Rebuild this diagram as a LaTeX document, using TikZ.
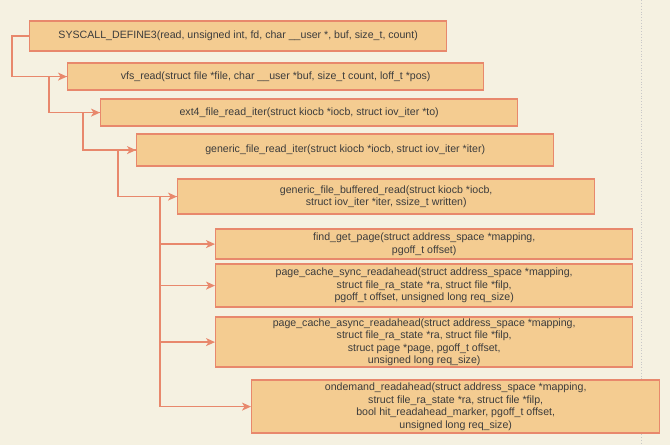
\documentclass[tikz,border=0pt]{standalone}
\usepackage{fontspec}
\setmainfont{Liberation Sans}
\usetikzlibrary{arrows.meta, positioning}
\definecolor{bgcream}{HTML}{F5F1E1}
\definecolor{boxfill}{HTML}{F4CC91}
\definecolor{boxline}{HTML}{E8886C}
\definecolor{txtgray}{HTML}{3C3C3C}
\definecolor{guidegray}{HTML}{C8C8C8}

\begin{document}
\begin{tikzpicture}[x=1pt, y=-1pt, font=\fontsize{10.6}{12.5}\selectfont]
			\tikzset{%
				callbox/.style={rectangle, draw=boxline, fill=boxfill, line width=1.4pt, anchor=north west, inner sep=0pt, align=center, text=txtgray},
				callarrow/.style={draw=boxline, line width=1.2pt, -{Stealth[length=9pt, width=8pt, inset=2.5pt]}}
			}
			\fill[bgcream] (0,0) rectangle (670,445);
			\draw[guidegray, dotted, line width=0.8pt] (641,0) -- (641,445);
			\node[callbox, minimum width=417pt, minimum height=30pt] (sysdef) at (29,20) {SYSCALL\_DEFINE3(read, unsigned int, fd, char \_\_user *, buf, size\_t, count)};
			\node[callbox, minimum width=416pt, minimum height=27pt] (vfsread) at (67,62) {vfs\_read(struct file *file, char \_\_user *buf, size\_t count, loff\_t *pos)};
			\node[callbox, minimum width=417pt, minimum height=27pt] (ext4iter) at (100,98) {ext4\_file\_read\_iter(struct kiocb *iocb, struct iov\_iter *to)};
			\node[callbox, minimum width=417pt, minimum height=32pt] (geniter) at (136,133) {generic\_file\_read\_iter(struct kiocb *iocb, struct iov\_iter *iter)};
			\node[callbox, minimum width=417pt, minimum height=35pt] (bufread) at (177,178) {generic\_file\_buffered\_read(struct kiocb *iocb,\\ struct iov\_iter *iter, ssize\_t written)};
			\node[callbox, minimum width=417pt, minimum height=30pt] (findpage) at (215,228) {find\_get\_page(struct address\_space *mapping,\\ pgoff\_t offset)};
			\node[callbox, minimum width=417pt, minimum height=43pt] (syncra) at (215,263) {page\_cache\_sync\_readahead(struct address\_space *mapping,\\ struct file\_ra\_state *ra, struct file *filp,\\ pgoff\_t offset, unsigned long req\_size)};
			\node[callbox, minimum width=417pt, minimum height=50pt] (asyncra) at (215,316) {page\_cache\_async\_readahead(struct address\_space *mapping,\\ struct file\_ra\_state *ra, struct file *filp,\\ struct page *page, pgoff\_t offset,\\ unsigned long req\_size)};
			\node[callbox, minimum width=408pt, minimum height=53pt] (ondemand) at (251,379) {ondemand\_readahead(struct address\_space *mapping,\\ struct file\_ra\_state *ra, struct file *filp,\\ bool hit\_readahead\_marker, pgoff\_t offset,\\ unsigned long req\_size)};
			\draw[callarrow] (sysdef.west) -- ++(-17,0) |- (vfsread.west);
			\draw[callarrow] (vfsread.west) -- ++(-18,0) |- (ext4iter.west);
			\draw[callarrow] (ext4iter.west) -- ++(-17,0) |- (geniter.west);
			\draw[callarrow] (geniter.west) -- ++(-18,0) |- (bufread.west);
			\draw[callarrow] (bufread.west) -- ++(-17,0) |- (findpage.west);
			\draw[callarrow] (bufread.west) -- ++(-17,0) |- (syncra.west);
			\draw[callarrow] (bufread.west) -- ++(-17,0) |- (asyncra.west);
			\draw[callarrow] (bufread.west) -- ++(-17,0) |- (ondemand.west);
		\end{tikzpicture}
\end{document}
